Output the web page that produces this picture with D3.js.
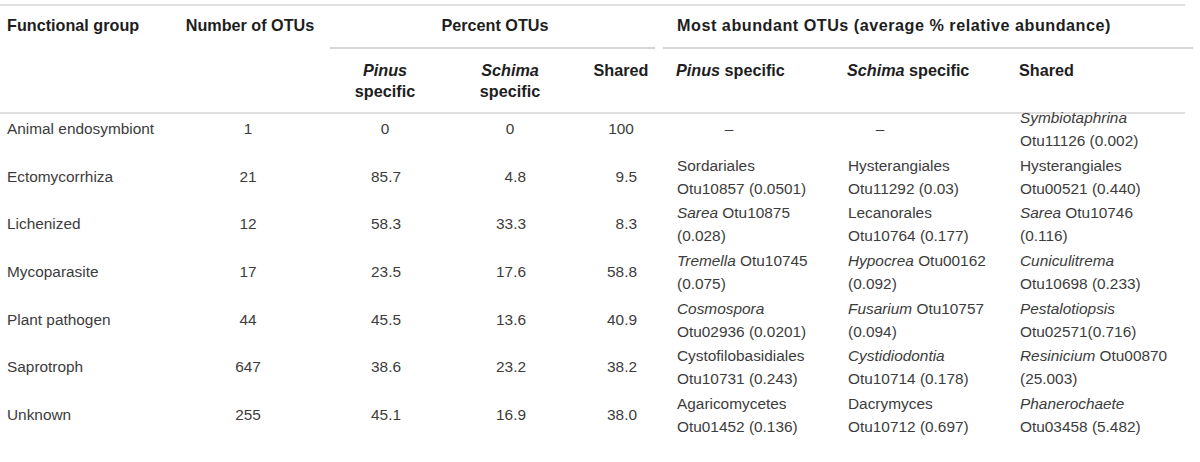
<!DOCTYPE html>
<html>
<head>
<meta charset="utf-8">
<script src="https://cdn.jsdelivr.net/npm/d3@7"></script>
<style>
  html, body { margin: 0; padding: 0; background: #fff; }
  svg { display: block; font-family: "Liberation Sans", Arial, Helvetica, sans-serif; }
</style>
</head>
<body>
<svg id="chart" width="1200" height="462"></svg>
<script>
// ---------- data ----------
const groups = ["Animal endosymbiont", "Ectomycorrhiza", "Lichenized", "Mycoparasite",
                "Plant pathogen", "Saprotroph", "Unknown"];
const otuCounts = [1, 21, 12, 17, 44, 647, 255];
const pinusPct  = [0, 85.7, 58.3, 23.5, 45.5, 38.6, 45.1];
const schimaPct = [0, 4.8, 33.3, 17.6, 13.6, 23.2, 16.9];
const sharedPct = [100, 9.5, 8.3, 58.8, 40.9, 38.2, 38.0];
// "*...*" marks italic, "|" marks a line break
const pinusTop = ["–", "Sordariales|Otu10857 (0.0501)", "*Sarea* Otu10875|(0.028)",
  "*Tremella* Otu10745|(0.075)", "*Cosmospora*|Otu02936 (0.0201)",
  "Cystofilobasidiales|Otu10731 (0.243)", "Agaricomycetes|Otu01452 (0.136)"];
const schimaTop = ["–", "Hysterangiales|Otu11292 (0.03)", "Lecanorales|Otu10764 (0.177)",
  "*Hypocrea* Otu00162|(0.092)", "*Fusarium* Otu10757|(0.094)",
  "*Cystidiodontia*|Otu10714 (0.178)", "Dacrymyces|Otu10712 (0.697)"];
const sharedTop = ["*Symbiotaphrina*|Otu11126 (0.002)", "Hysterangiales|Otu00521 (0.440)",
  "*Sarea* Otu10746|(0.116)", "*Cuniculitrema*|Otu10698 (0.233)",
  "*Pestalotiopsis*|Otu02571(0.716)", "*Resinicium* Otu00870|(25.003)",
  "*Phanerochaete*|Otu03458 (5.482)"];
const topHeaders = ["Functional group", "Number of OTUs", "Percent OTUs",
  "Most abundant OTUs (average % relative abundance)"];
const pctHeaders = ["*Pinus*|specific", "*Schima*|specific", "Shared"];
const abundHeaders = ["*Pinus* specific", "*Schima* specific", "Shared"];

// ---------- layout ----------
const svg = d3.select("#chart");
const FS = 15.4, HFS = 16.2, LH = 23;
const bodyColor = "#3c3c3c", headColor = "#1e1e1e", ruleColor = "#d6d6d6";

const y = d3.scaleBand().domain(groups).range([105, 439]);
const baseY = g => y(g) + y.bandwidth() / 2 + 5;

const pctCols = ["pinus", "schima", "shared"];
const xPct = d3.scaleOrdinal().domain(pctCols).range([385, 510, 621]);
const xTop = d3.scaleOrdinal().domain(pctCols).range([677, 848, 1020]);
const xDash = d3.scaleOrdinal().domain(pctCols).range([729, 880, 1020]);
const xCount = 248, xGroup = 7;

// rich text helper
function rich(sel, str, x, y0, anchor, opts) {
  const lines = str.split("|");
  const t = sel.append("text")
    .attr("text-anchor", anchor)
    .attr("font-size", opts.size)
    .attr("font-weight", opts.weight || "normal")
    .attr("letter-spacing", opts.ls || 0)
    .attr("fill", opts.fill);
  const off = lines.length > 1 ? opts.firstOff : 0;
  lines.forEach((ln, i) => {
    const parts = ln.split("*");
    parts.forEach((p, j) => {
      if (!p) return;
      const ts = t.append("tspan").text(p)
        .attr("font-style", j % 2 === 1 ? "italic" : "normal");
      if (j === 0 || (j === 1 && !parts[0])) {
        ts.attr("x", x).attr("y", y0 + off + i * (opts.lh || LH));
      }
    });
  });
  return t;
}

// ---------- rules ----------
const rules = [
  [0, 1185, 5, 1.3], [330, 655, 48, 2], [663, 1193, 48, 2], [0, 1185, 113, 1.3]
];
svg.append("g").selectAll("line").data(rules).join("line")
  .attr("x1", d => d[0]).attr("x2", d => d[1])
  .attr("y1", d => d[2]).attr("y2", d => d[2])
  .attr("stroke", ruleColor).attr("stroke-width", d => d[3]);

// ---------- headers ----------
const hOpts = { size: HFS, weight: "bold", fill: headColor, firstOff: 0, lh: 21 };
const head = svg.append("g");
rich(head, topHeaders[0], xGroup, 31, "start", hOpts);
rich(head, topHeaders[1], 250, 31, "middle", hOpts);
rich(head, topHeaders[2], 495, 31, "middle", hOpts);
rich(head, topHeaders[3], 894, 31, "middle", Object.assign({}, hOpts, { ls: 0.5 }));
pctCols.forEach((c, i) => rich(head, pctHeaders[i], xPct(c), 76, "middle", hOpts));
pctCols.forEach((c, i) => rich(head, abundHeaders[i], xTop(c) - 1, 76, "start", hOpts));

// ---------- body ----------
const body = svg.append("g");
const bOpts = { size: FS, fill: bodyColor, firstOff: -11 };
const fmtPct = v => (v === 0 || v === 100) ? d3.format("d")(v) : d3.format(".1f")(v);
const pctData = { pinus: pinusPct, schima: schimaPct, shared: sharedPct };
const topData = { pinus: pinusTop, schima: schimaTop, shared: sharedTop };

groups.forEach((g, i) => {
  const by = baseY(g);
  rich(body, g, xGroup, by, "start", bOpts);
  rich(body, String(otuCounts[i]), xCount, by, "middle", bOpts);
  pctCols.forEach(c => {
    const v = pctData[c][i];
    const isInt = (v === 0 || v === 100);
    rich(body, fmtPct(v), isInt ? xPct(c) : xPct(c) + 16, by, isInt ? "middle" : "end", bOpts);
    const s = topData[c][i];
    if (s === "–") rich(body, s, xDash(c), by, "middle", bOpts);
    else rich(body, s, xTop(c), by, "start", bOpts);
  });
});
</script>
</body>
</html>
